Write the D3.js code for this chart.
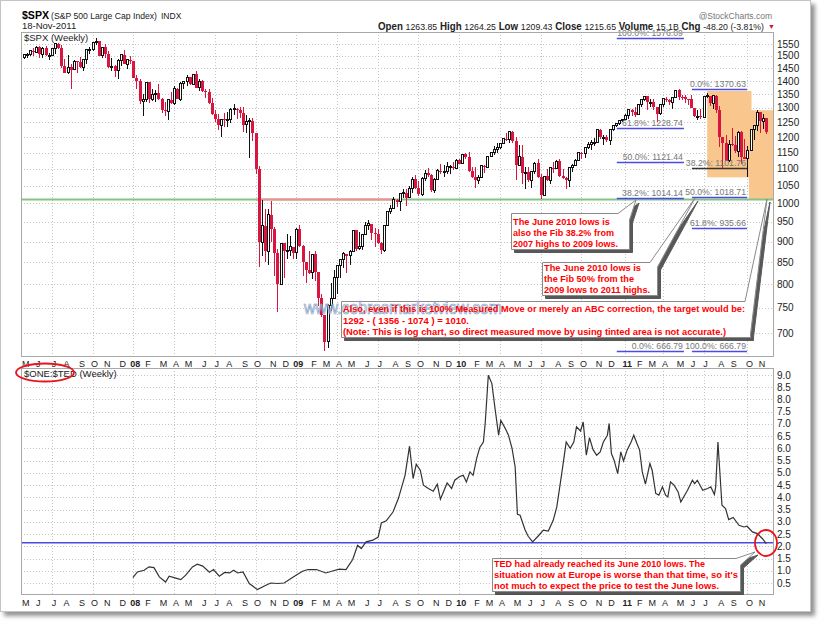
<!DOCTYPE html>
<html lang="en">
<head>
<meta charset="UTF-8"/>
<title>$SPX weekly with $ONE:$TED</title>
<script src="https://d3js.org/d3.v7.min.js"></script>
<style>
  body { margin: 0; background: #fff; }
  text { font-family: "Liberation Sans", Arial, sans-serif; }
  .grid line { stroke: #c4c4c4; stroke-dasharray: 1,2; shape-rendering: crispEdges; }
  .frame { fill: none; stroke: #a8a8a8; shape-rendering: crispEdges; }
  .tick { font-size: 10px; fill: #222; }
  .mon { font-size: 9px; fill: #222; text-anchor: middle; }
  .fib { font-size: 8.7px; fill: #777; text-anchor: end; }
  .note { font-size: 9.5px; font-weight: bold; fill: #f00; }
</style>
</head>
<body>
<svg width="820" height="621"></svg>
<script>
// weekly bars, the first one is the week ending 2007-05-04
const firstWeek = "2007-05-04";

const spxOpen = [
  1494,1505,1505,1522,1515,1536,1507,1533,1502,1503,1530,1552,1534,1458,1433,1453,1445,1479,1474,1453,1484,1525,1527,1557,1561,1500,1536,1509,1453,1458,1440,1481,1504,1467,1484,
  1478,1411,1401,1325,1331,1396,1331,1349,1353,1331,1294,1288,1330,1316,1370,1332,1390,1398,1414,1388,1426,1375,1400,1361,1360,1318,1278,1262,1239,1261,1257,1260,1296,1298,1292,1283,1242,1252,1255,1213,1099,899,940,877,969,931,873,800,896,876,879,887,
  873,931,890,850,832,826,869,827,770,735,683,756,769,816,843,857,870,866,877,929,883,887,919,940,946,921,918,896,879,941,979,987,1010,1005,1026,1029,1016,1042,1068,1044,1025,1071,1087,1080,1036,1069,1093,1091,1091,1106,1106,1102,1126,
  1115,1145,1136,1092,1074,1066,1075,1109,1104,1139,1150,1160,1167,1179,1194,1192,1217,1187,1111,1136,1088,1089,1065,1092,1117,1076,1023,1078,1065,1103,1102,1122,1079,1071,1065,1104,1110,1126,1149,1147,1166,1176,1183,1183,1225,1200,1200,1189,1225,1240,1244,1257,
  1258,1272,1293,1284,1276,1311,1329,1343,1320,1321,1304,1279,1314,1333,1328,1320,1337,1364,1340,1338,1333,1331,1300,1271,1271,1268,1340,1344,1316,1345,1292,1199,1179,1124,1177,1174,1154,1216,1136,1131,1155,1225,1238,1285,1253,1264
];
const spxHigh = [
  1510,1513,1522,1532,1540,1540,1538,1540,1514,1532,1555,1556,1547,1489,1504,1466,1482,1481,1496,1489,1530,1538,1560,1576,1564,1536,1552,1520,1493,1465,1488,1508,1523,1485,1498,
  1478,1424,1406,1350,1396,1397,1368,1367,1388,1335,1321,1331,1359,1380,1375,1395,1400,1422,1415,1426,1440,1406,1404,1370,1370,1336,1292,1278,1262,1283,1285,1300,1314,1300,1305,1304,1274,1265,1265,1215,1108,1008,985,984,1007,936,882,897,896,918,914,887,
  934,943,891,851,877,870,876,827,780,735,758,804,832,845,857,875,871,880,930,930,924,920,951,956,946,935,931,898,943,980,996,1018,1013,1027,1039,1039,1049,1074,1080,1063,1076,1096,1101,1085,1071,1100,1113,1112,1119,1110,1120,1130,1130,
  1146,1150,1151,1104,1104,1080,1112,1112,1139,1151,1170,1181,1181,1195,1214,1218,1220,1199,1174,1173,1105,1106,1093,1120,1131,1083,1078,1100,1104,1120,1128,1130,1100,1074,1105,1113,1131,1149,1152,1167,1184,1189,1196,1227,1227,1207,1207,1225,1242,1248,1259,1262,
  1278,1294,1296,1302,1311,1331,1344,1344,1332,1331,1304,1315,1337,1339,1332,1341,1364,1371,1346,1346,1334,1346,1300,1292,1298,1341,1356,1344,1348,1346,1307,1199,1208,1190,1230,1205,1220,1220,1195,1171,1225,1239,1293,1285,1277,1264
];
const spxLow = [
  1488,1491,1498,1500,1512,1490,1492,1500,1484,1503,1510,1530,1450,1432,1428,1370,1445,1432,1451,1439,1468,1510,1520,1546,1500,1490,1492,1450,1440,1416,1406,1460,1467,1446,1468,
  1411,1370,1313,1270,1322,1317,1326,1320,1328,1283,1273,1256,1313,1312,1331,1324,1370,1379,1384,1386,1373,1362,1358,1335,1315,1275,1252,1225,1200,1234,1233,1248,1275,1261,1265,1217,1213,1133,1188,1085,839,866,852,845,900,818,741,798,815,857,865,857,
  857,888,818,804,823,812,808,754,731,667,672,743,768,779,814,838,826,845,874,878,879,880,916,928,903,888,893,869,875,940,972,984,990,978,1016,992,1014,1030,1041,1020,1019,1064,1074,1033,1029,1069,1085,1074,1085,1085,1097,1102,1115,
  1115,1131,1090,1071,1044,1056,1075,1086,1104,1136,1141,1150,1161,1176,1186,1180,1181,1066,1108,1056,1040,1060,1043,1085,1071,1011,1022,1063,1056,1087,1102,1076,1068,1040,1047,1091,1108,1122,1131,1132,1160,1159,1171,1181,1194,1173,1185,1174,1220,1233,1242,1252,
  1257,1262,1271,1269,1276,1305,1324,1294,1302,1291,1249,1275,1305,1322,1309,1295,1335,1329,1329,1318,1311,1300,1268,1258,1262,1263,1336,1308,1295,1283,1168,1102,1124,1121,1170,1150,1136,1114,1130,1075,1154,1191,1220,1215,1226,1209
];
const spxClose = [
  1505,1505,1522,1515,1536,1507,1533,1502,1503,1530,1552,1534,1458,1433,1453,1445,1479,1474,1453,1484,1525,1527,1557,1561,1500,1536,1509,1453,1458,1440,1481,1504,1467,1484,1478,
  1411,1401,1325,1331,1396,1331,1349,1353,1331,1294,1288,1330,1316,1370,1332,1390,1398,1414,1388,1426,1375,1400,1361,1360,1318,1278,1262,1239,1261,1257,1260,1296,1298,1292,1283,1242,1252,1255,1213,1099,899,940,877,969,931,873,800,896,876,879,887,873,
  931,890,850,832,826,869,827,770,735,683,756,769,816,843,857,870,866,877,929,883,887,919,940,946,921,918,896,879,941,979,987,1010,1005,1026,1029,1016,1042,1068,1044,1025,1071,1087,1080,1036,1069,1093,1091,1091,1106,1106,1102,1126,1115,
  1145,1136,1092,1074,1066,1075,1109,1104,1139,1150,1160,1167,1179,1194,1192,1217,1187,1111,1136,1088,1089,1065,1092,1117,1076,1023,1078,1065,1103,1102,1122,1079,1071,1065,1104,1110,1126,1149,1147,1166,1176,1183,1183,1225,1200,1200,1189,1225,1240,1244,1257,1258,
  1272,1293,1284,1276,1311,1329,1343,1320,1321,1304,1279,1314,1333,1328,1320,1337,1364,1340,1338,1333,1331,1300,1271,1271,1268,1340,1344,1316,1345,1292,1199,1179,1124,1177,1174,1154,1216,1136,1131,1155,1225,1238,1285,1253,1263,1216
];

// $ONE:$TED
const tedDates = [
  "2008-01-03","2008-01-13","2008-01-28","2008-02-08","2008-02-19","2008-03-02","2008-03-16","2008-03-24","2008-04-04","2008-04-19","2008-04-30","2008-05-15","2008-05-26","2008-06-07","2008-06-22","2008-07-01","2008-07-14","2008-07-26","2008-08-06","2008-08-15","2008-08-24","2008-09-05","2008-09-19","2008-10-07","2008-10-26","2008-11-06","2008-11-21","2008-12-06","2008-12-21",
  "2009-01-05","2009-01-16","2009-01-28","2009-02-16","2009-03-09","2009-03-24","2009-04-08","2009-04-23","2009-05-08","2009-05-19","2009-05-27","2009-06-07","2009-06-22","2009-07-04","2009-07-11","2009-07-22","2009-08-06","2009-08-18","2009-09-02","2009-09-12","2009-09-20","2009-09-27","2009-10-06","2009-10-13","2009-10-24","2009-11-04","2009-11-13","2009-11-20","2009-12-05","2009-12-15","2009-12-22",
  "2010-01-02","2010-01-10","2010-01-17","2010-01-25","2010-02-01","2010-02-09","2010-02-16","2010-02-24","2010-02-28","2010-03-07","2010-03-15","2010-03-22","2010-03-30","2010-04-04","2010-04-14","2010-04-21","2010-04-29","2010-05-06","2010-05-11","2010-05-17","2010-05-28","2010-06-04","2010-06-14","2010-06-26","2010-07-08","2010-07-19","2010-07-30","2010-08-07","2010-08-18","2010-08-28","2010-09-06","2010-09-14","2010-09-20","2010-09-29","2010-10-05","2010-10-12","2010-10-19","2010-10-27","2010-11-04","2010-11-12","2010-11-19","2010-11-28","2010-12-02","2010-12-07","2010-12-13","2010-12-21","2010-12-28",
  "2011-01-03","2011-01-11","2011-01-20","2011-01-26","2011-02-02","2011-02-08","2011-02-14","2011-02-21","2011-03-03","2011-03-08","2011-03-16","2011-03-23","2011-03-31","2011-04-07","2011-04-12","2011-04-18","2011-04-26","2011-05-05","2011-05-11","2011-05-26","2011-06-06","2011-06-11","2011-06-17","2011-06-29","2011-07-10","2011-07-17","2011-07-25","2011-07-28","2011-08-02","2011-08-11","2011-08-19","2011-08-26","2011-09-05","2011-09-18","2011-09-29","2011-10-06","2011-10-18","2011-10-29","2011-11-09","2011-11-18"
];
const tedValues = [
  0.72,0.95,1.02,1.16,1.13,0.75,0.54,0.78,0.72,0.64,0.82,1.16,1.27,1.19,0.94,1.05,0.78,0.93,0.91,1.02,0.91,0.95,0.48,0.23,0.41,0.50,0.48,0.50,0.68,
  0.86,0.98,1.05,1.05,0.91,0.99,1.07,1.05,1.46,2.04,1.91,2.18,2.25,2.38,2.95,3.04,3.40,3.95,4.90,6.09,4.77,5.35,5.11,4.50,4.36,4.25,4.54,3.92,4.59,4.36,4.70,
  4.85,4.90,4.63,5.04,4.90,5.59,6.04,6.26,7.02,8.99,8.65,7.63,6.54,7.15,6.81,6.54,6.00,5.24,3.31,3.27,2.68,2.41,2.18,2.41,2.66,2.62,3.06,3.61,4.97,6.26,6.00,6.26,6.88,6.71,7.08,5.72,6.44,5.95,5.72,5.86,6.26,6.54,7.02,5.79,5.52,4.97,5.86,
  5.49,5.93,6.26,6.54,6.20,5.93,5.04,4.54,5.38,5.11,4.16,4.09,4.43,4.09,4.02,4.63,4.50,4.22,3.81,4.29,4.70,4.56,4.70,4.29,4.36,4.43,4.12,4.43,6.26,3.68,3.54,3.09,3.18,2.86,2.79,2.82,2.59,2.52,2.32,2.11
];

const priceTicks = [700,750,800,850,900,950,1000,1050,1100,1150,1200,1250,1300,1350,1400,1450,1500,1550];
const tedTicks = [0.5,1.0,1.5,2.0,2.5,3.0,3.5,4.0,4.5,5.0,5.5,6.0,6.5,7.0,7.5,8.0,8.5,9.0];
const monthLetters = ["J","F","M","A","M","J","J","A","S","O","N","D"];

// fibonacci retracements: 2007 high -> 2009 low, 2009 low -> 2011 high
const fib1Pct = ["100.0%","61.8%","50.0%","38.2%","0.0%"];
const fib1Val = [1576.09,1228.74,1121.44,1014.14,666.79];
const fib2Pct = ["0.0%","38.2%","50.0%","61.8%","100.0%"];
const fib2Val = [1370.63,1101.76,1018.71,935.66,666.79];

const juneLow = 1010.91;
const tedJuneLow = 2.14;

const header = [["Open","1263.85"],["High","1264.25"],["Low","1209.43"],["Close","1215.65"],["Volume","15.1B"],["Chg","-48.20 (-3.81%)"]];

// ---------------------------------------------------------------
const parse = d3.utcParse("%Y-%m-%d");
const svg = d3.select("svg");
const L = 21, R = 773;
const t1 = 32, b1 = 356, t2 = 368, b2 = 594;

const weeks = spxClose.map((d, i) => d3.utcDay.offset(parse(firstWeek), 7 * i));
const x = d3.scaleUtc().domain([parse("2007-04-28"), parse("2011-12-03")]).range([L, R]);
const y1 = d3.scaleLog().domain([700, 1550]).range([333, 44]);
const y2 = d3.scaleLinear().domain([0.5, 9]).range([583, 375]);

const defs = svg.append("defs");
defs.append("clipPath").attr("id", "c1").append("rect")
    .attr("x", L).attr("y", t1).attr("width", R - L).attr("height", b1 - t1);
defs.append("clipPath").attr("id", "c2").append("rect")
    .attr("x", L).attr("y", t2).attr("width", R - L).attr("height", b2 - t2);
let f = defs.append("filter").attr("id", "pageShadow").attr("x", "-2%").attr("y", "-2%").attr("width", "106%").attr("height", "106%");
f.append("feDropShadow").attr("dx", 4).attr("dy", 4).attr("stdDeviation", 2).attr("flood-color", "#777").attr("flood-opacity", 0.8);
f = defs.append("filter").attr("id", "boxShadow").attr("x", "-5%").attr("y", "-5%").attr("width", "115%").attr("height", "130%");
f.append("feDropShadow").attr("dx", 3).attr("dy", 3).attr("stdDeviation", 0.4).attr("flood-color", "#444").attr("flood-opacity", 0.9);

// page
svg.append("rect").attr("x", 0.5).attr("y", 0.5).attr("width", 810).attr("height", 611)
    .attr("fill", "#fff").attr("stroke", "#c4c4c4").attr("filter", "url(#pageShadow)");

// header
svg.append("text").attr("x", 22).attr("y", 19).attr("font-size", 11.5).attr("font-weight", "bold")
    .attr("textLength", 27).attr("lengthAdjust", "spacingAndGlyphs").text("$SPX");
svg.append("text").attr("x", 51).attr("y", 19).attr("font-size", 9.5).attr("fill", "#222")
    .attr("textLength", 106).attr("lengthAdjust", "spacingAndGlyphs").text("(S&P 500 Large Cap Index)");
svg.append("text").attr("x", 161).attr("y", 19).attr("font-size", 8.5).attr("fill", "#222").text("INDX");
svg.append("text").attr("x", 22).attr("y", 29).attr("font-size", 9.5).attr("fill", "#222").text("18-Nov-2011");
svg.append("text").attr("x", 772).attr("y", 19).attr("font-size", 8.5).attr("fill", "#777")
    .attr("text-anchor", "end").text("@StockCharts.com");
const ht = svg.append("text").attr("x", 378).attr("y", 29.5).attr("font-size", 9).attr("fill", "#222")
    .attr("textLength", 386).attr("lengthAdjust", "spacingAndGlyphs");
header.forEach(([k, v], i) => {
  ht.append("tspan").attr("font-weight", "bold").attr("font-size", 10).text((i ? "  " : "") + k + " ");
  ht.append("tspan").text(v);
});
svg.append("text").attr("x", 768).attr("y", 29).attr("font-size", 7).attr("fill", "#d0103a").text("▼");

// month starts
const monthStarts = weeks.filter((d, i) => i === 0 || d.getUTCMonth() !== weeks[i - 1].getUTCMonth());
const quarterStarts = monthStarts.filter(d => d.getUTCMonth() % 3 === 0);

function panel(top, bottom, scale, ticks, fmt) {
  const g = svg.append("g");
  const grid = g.append("g").attr("class", "grid");
  grid.selectAll(".h").data(ticks).join("line")
      .attr("x1", L).attr("x2", R)
      .attr("y1", d => Math.round(scale(d)) + 0.5).attr("y2", d => Math.round(scale(d)) + 0.5);
  grid.selectAll(".v").data(quarterStarts).join("line")
      .attr("x1", d => Math.round(x(d)) + 0.5).attr("x2", d => Math.round(x(d)) + 0.5)
      .attr("y1", top).attr("y2", bottom);
  g.selectAll(".tick").data(ticks).join("text").attr("class", "tick")
      .attr("x", R + 4).attr("y", d => scale(d) + 3.5).text(fmt);
  return g;
}
function monthAxis(yText) {
  svg.append("g").selectAll("text").data(monthStarts).join("text")
      .attr("class", "mon")
      .attr("x", d => x(d) + 2).attr("y", yText)
      .attr("font-weight", d => d.getUTCMonth() === 0 ? "bold" : null)
      .attr("font-size", d => d.getUTCMonth() === 0 ? 10 : 9)
      .text(d => d.getUTCMonth() === 0 ? d3.utcFormat("%y")(d) : monthLetters[d.getUTCMonth()]);
}

// ---------------- price panel
panel(t1, b1, y1, priceTicks, d => d);
monthAxis(367);

const p1 = svg.append("g").attr("clip-path", "url(#c1)");

// tinted measured-move areas
const tints = [
  {x0: "2011-07-09", x1: "2011-10-16", lo: 1074, hi: 1362},
  {x0: "2011-10-10", x1: "2011-12-03", lo: 1012, hi: 1292}
];
p1.selectAll(".tint").data(tints).join("rect")
    .attr("x", d => x(parse(d.x0))).attr("width", d => x(parse(d.x1)) - x(parse(d.x0)))
    .attr("y", d => y1(d.hi)).attr("height", d => y1(d.lo) - y1(d.hi))
    .attr("fill", "#f9c68d");

// June 2010 low line
p1.append("line").attr("x1", L).attr("x2", R).attr("y1", y1(juneLow)).attr("y2", y1(juneLow))
    .attr("stroke", "#86c486").attr("stroke-width", 2);
p1.append("line").attr("x1", x(parse("2008-10-06"))).attr("x2", x(parse("2009-08-10")))
    .attr("y1", y1(juneLow)).attr("y2", y1(juneLow))
    .attr("stroke", "#f29090").attr("stroke-width", 2);

// fib lines
function fibs(pcts, vals, from, to, darkPct) {
  const a = x(parse(from)), b = x(parse(to));
  vals.forEach((v, i) => {
    const yy = Math.round(y1(v)) + 0.5;
    p1.append("line").attr("x1", a).attr("x2", b).attr("y1", yy).attr("y2", yy)
        .attr("stroke", pcts[i] === darkPct ? "#333" : "#4a4ae6").attr("stroke-width", 1.5);
    svg.append("text").attr("class", "fib").attr("x", b - 1).attr("y", yy - 2.5)
        .text(pcts[i] + ": " + v.toFixed(2));
  });
}
fibs(fib1Pct, fib1Val, "2010-12-19", "2011-05-18", null);
fibs(fib2Pct, fib2Val, "2011-06-05", "2011-10-06", "38.2%");

// candles
const bars = weeks.map((d, i) => ({d, o: spxOpen[i], h: spxHigh[i], l: spxLow[i], c: spxClose[i]}));
const up = b => b.c >= b.o;
const cg = p1.append("g").attr("shape-rendering", "crispEdges");
cg.selectAll(".wick").data(bars).join("line")
    .attr("x1", b => Math.round(x(b.d)) + 0.5).attr("x2", b => Math.round(x(b.d)) + 0.5)
    .attr("y1", b => y1(b.h)).attr("y2", b => y1(b.l))
    .attr("stroke", b => up(b) ? "#111" : "#d8163f");
cg.selectAll(".body").data(bars).join("rect")
    .attr("x", b => Math.round(x(b.d)) - (up(b) ? 0.5 : 1))
    .attr("width", b => up(b) ? 2 : 3)
    .attr("y", b => y1(Math.max(b.o, b.c)))
    .attr("height", b => Math.max(1, y1(Math.min(b.o, b.c)) - y1(Math.max(b.o, b.c))))
    .attr("fill", b => up(b) ? "#fff" : "#d8163f")
    .attr("stroke", b => up(b) ? "#111" : "none");

svg.append("text").attr("x", 24).attr("y", 41).attr("font-size", 9.5).attr("fill", "#222").text("$SPX (Weekly)");
svg.append("rect").attr("class", "frame").attr("x", L + 0.5).attr("y", t1 + 0.5).attr("width", R - L).attr("height", b1 - t1);

// ---------------- TED panel
panel(t2, b2, y2, tedTicks, d => d.toFixed(1));
monthAxis(606);
const p2 = svg.append("g").attr("clip-path", "url(#c2)");
p2.append("line").attr("x1", L).attr("x2", R).attr("y1", y2(tedJuneLow)).attr("y2", y2(tedJuneLow))
    .attr("stroke", "#4a4ae6").attr("stroke-width", 1.5);
const ted = tedDates.map((d, i) => ({d: parse(d), v: tedValues[i]}));
p2.append("path").datum(ted)
    .attr("d", d3.line().x(p => x(p.d)).y(p => y2(p.v)))
    .attr("fill", "none").attr("stroke", "#333").attr("stroke-width", 1.2);
svg.append("text").attr("x", 24).attr("y", 377).attr("font-size", 9.5).attr("fill", "#222").text("$ONE:$TED (Weekly)");
svg.append("rect").attr("class", "frame").attr("x", L + 0.5).attr("y", t2 + 0.5).attr("width", R - L).attr("height", b2 - t2);

// ---------------- call-outs
function callout(c) {
  const {x0, y0, x1, y1: yb, tail} = c;
  const p = d3.path();
  p.moveTo(x0, y0);
  p.lineTo(tail[0], y0);
  p.lineTo(tail[2], tail[3]);
  p.lineTo(x1, tail[1]);
  p.lineTo(x1, yb);
  p.lineTo(x0, yb);
  p.closePath();
  svg.append("path").attr("d", p.toString()).attr("fill", "#fff").attr("stroke", "#8a8a8a")
      .attr("stroke-width", 1).attr("filter", "url(#boxShadow)");
}
function noteText(lines, xx, ys) {
  lines.forEach((l, i) => {
    svg.append("text").attr("class", "note").attr("x", xx).attr("y", ys[i])
        .attr("textLength", l[1]).attr("lengthAdjust", "spacingAndGlyphs").text(l[0]);
  });
}

callout({x0: 511.5, y0: 213.5, x1: 629.5, y1: 249.5, tail: [618, 220, 636, 200]});
noteText([["The June 2010 lows is", 97], ["also the Fib 38.2% from", 101], ["2007 highs to 2009 lows.", 105]], 513, [225, 236, 246.5]);

callout({x0: 542.5, y0: 262.5, x1: 657.5, y1: 295.5, tail: [650, 267, 695, 198]});
noteText([["The June 2010 lows is", 97], ["the Fib 50% from the", 90], ["2009 lows to 2011 highs.", 106]], 544, [271, 282, 292.5]);

callout({x0: 341.5, y0: 301.5, x1: 750.5, y1: 337.5, tail: [745, 334, 767, 199]});
svg.append("text").attr("x", 304).attr("y", 314).attr("font-size", 17.5).attr("font-family", "DejaVu Sans, sans-serif")
    .attr("fill", "#eef2f8").attr("fill-opacity", 0.5).attr("stroke", "#7f9cc4").attr("stroke-width", 0.7)
    .attr("textLength", 198).attr("lengthAdjust", "spacingAndGlyphs").text("www.cobrasmarketview.com");
noteText([["Also, even if this is 100% Measured Move or merely an ABC correction, the target would be:", 402],
          ["1292 - ( 1356 - 1074 ) = 1010.", 126],
          ["(Note: This is log chart, so direct measured move by using tinted area is not accurate.)", 383]],
         343, [312, 323.5, 335]);

callout({x0: 492.5, y0: 558.5, x1: 740.5, y1: 591.5, tail: [736, 565, 755, 552]});
noteText([["TED had already reached its June 2010 lows. The", 211],
          ["situation now at Europe is worse than that time, so it's", 244],
          ["not much to expect the price to test the June lows.", 225]],
         494, [567, 578, 588.5]);

// red circles
svg.append("ellipse").attr("cx", 766).attr("cy", 543).attr("rx", 11).attr("ry", 13)
    .attr("fill", "none").attr("stroke", "#e8141e").attr("stroke-width", 1.8);
svg.append("ellipse").attr("cx", 45).attr("cy", 372.5).attr("rx", 29).attr("ry", 9)
    .attr("fill", "none").attr("stroke", "#e8141e").attr("stroke-width", 1.8);
</script>
</body>
</html>
